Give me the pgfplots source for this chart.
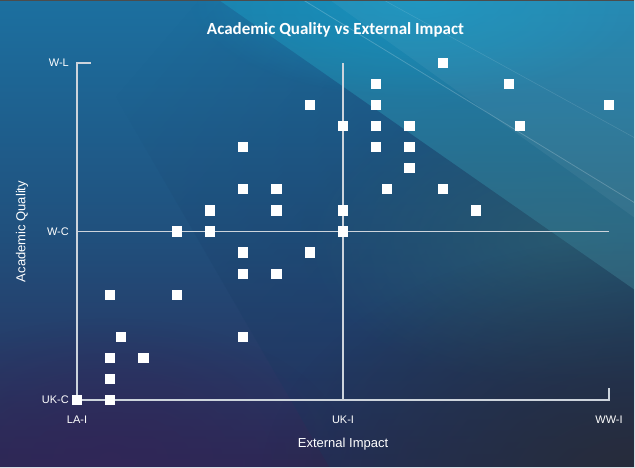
\documentclass[border=0pt]{standalone}
\usepackage{pgfplots}
\pgfplotsset{compat=1.18}
\usepackage{fontspec}
\setmainfont{Liberation Sans}
\newfontfamily\titlefont{Carlito}
\usetikzlibrary{fadings}

\definecolor{bgtop}{RGB}{28,112,160}
\definecolor{bgmid}{RGB}{32,80,125}
\definecolor{bgbot}{RGB}{44,40,84}
\definecolor{bright}{RGB}{20,152,195}
\definecolor{wedgetop}{RGB}{28,145,185}
\definecolor{wedgebot}{RGB}{56,112,132}
\definecolor{slate}{RGB}{40,43,54}
\definecolor{plum}{RGB}{50,38,88}
\definecolor{deepnavy}{RGB}{22,58,98}
\definecolor{tealgray}{RGB}{42,92,112}
\definecolor{axisgray}{RGB}{205,212,220}

\tikzfading[name=glow, inner color=transparent!0, outer color=transparent!100]
\tikzfading[name=rampright, left color=transparent!100, right color=transparent!0]

\begin{document}
\begin{tikzpicture}
  \begin{scope}[x=1bp,y=1bp]
  \useasboundingbox (0,0) rectangle (635,468);
  % backdrop
  \shade[top color=bgtop, bottom color=bgbot, middle color=bgmid] (0,0) rectangle (635,468);
  \begin{scope}
    \clip (0,0) rectangle (635,468);
    % darker diagonal sweep left of the bright wedge
    \fill[deepnavy, path fading=rampright, fading angle=-35, opacity=0.5]
      (60,468) -- (219,468) -- (635,178) -- (635,0) -- (330,0) -- cycle;
    \fill[tealgray, path fading=glow, opacity=0.85] (560,230) ellipse (260 and 150);
    \fill[slate, path fading=glow, opacity=0.95] (640,-20) ellipse (380 and 250);
    \fill[plum, path fading=glow, opacity=0.75] (110,10) ellipse (240 and 140);
    % bright wedge upper right
    \shade[top color=wedgetop, bottom color=wedgebot, opacity=0.6] (219,468) -- (635,468) -- (635,178) -- cycle;
    \fill[bright, path fading=glow, opacity=0.7] (420,470) ellipse (230 and 100);
    \fill[white, opacity=0.05] (330,468) -- (635,468) -- (635,250) -- cycle;
    \draw[white, opacity=0.2, line width=0.8] (300,470) -- (635,265);
    \draw[white, opacity=0.12, line width=0.6] (380,470) -- (635,330);
  \end{scope}
  \draw[black!70, line width=1.2] (0,467.4) -- (635,467.4);
  \draw[axisgray!80, line width=1] (634.5,0) -- (634.5,468);
  \draw[axisgray!80, line width=1] (0,0.5) -- (635,0.5);

  \node[text=white, font=\titlefont\bfseries\fontsize{17bp}{20bp}\selectfont] at (335.5,438) {Academic Quality vs External Impact};
  \end{scope}

  \begin{axis}[
    at={(77bp,68bp)}, anchor=south west,
    scale only axis, width=532bp, height=337bp,
    xmin=0, xmax=16, ymin=0, ymax=16,
    clip=false,
    axis line style={draw=none},
    major tick length=0pt,
    xtick={0,8,16}, xticklabels={LA-I,UK-I,WW-I},
    ytick={0,8,16}, yticklabels={UK-C,W-C,W-L},
    xticklabel style={anchor=base, inner sep=0pt, yshift=-24bp, text=white, font=\fontsize{11bp}{13bp}\selectfont},
    yticklabel style={anchor=east, inner sep=0pt, xshift=-8bp, text=white, font=\fontsize{11bp}{13bp}\selectfont},
    xlabel={External Impact},
    ylabel={Academic Quality},
    xlabel style={at={(axis description cs:0.5,-0.1306)}, anchor=center, text=white, font=\fontsize{13bp}{15bp}\selectfont},
    ylabel style={at={(axis description cs:-0.1034,0.5)}, anchor=center, text=white, font=\fontsize{13bp}{15bp}\selectfont},
  ]
    % axes frame and quadrant dividers
    \draw[axisgray, line width=1.2bp] (axis cs:0.42,16) -- (axis cs:0,16) -- (axis cs:0,0) -- (axis cs:16,0) -- (axis cs:16,0.57);
    \draw[axisgray, line width=1.2bp] (axis cs:8,0) -- (axis cs:8,16);
    \draw[axisgray, line width=1.2bp] (axis cs:0,8) -- (axis cs:16,8);

    \addplot[only marks, mark=square*, mark size=4.6bp, mark options={fill=white, draw=white, line width=0pt}]
      coordinates {
        (0,0) (1,0) (1,1) (1,2) (2,2) (1.33,3) (1,5) (3,5)
        (5,3) (5,6) (6,6) (5,7) (7,7) (3,8) (4,8) (8,8)
        (4,9) (6,9) (8,9) (5,10) (6,10) (5,12) (7,14) (8,13)
        (9,15) (9,14) (9,13) (9,12) (10,13) (10,12) (10,11) (9.33,10)
        (11,10) (12,9) (11,16) (13,15) (13.33,13) (16,14)
      };
  \end{axis}
\end{tikzpicture}
\end{document}
